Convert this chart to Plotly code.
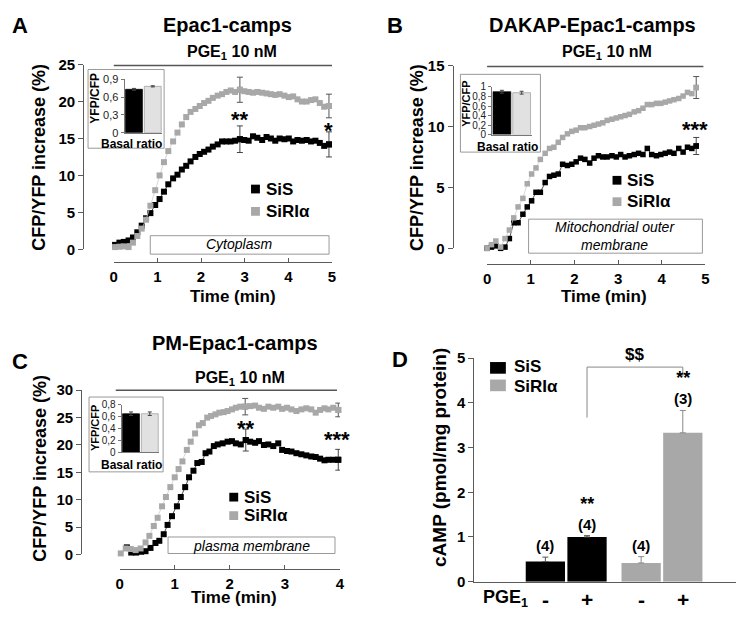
import plotly.graph_objects as go

# page is 749x622; browser body keeps an 8px margin, so the figure is 733x606
OFF = 8
FW, FH = 733, 606
FONT = "Liberation Sans, Arial, Helvetica, sans-serif"
AX = "#5a5a5a"
GRAY = "#a8a8a8"
LIGHT = "#e1e1e1"

# ---------------- data ----------------
# Panel A: Epac1-camps (cytoplasm)
A_time = [0.03, 0.13, 0.23, 0.34, 0.44, 0.54, 0.64, 0.74, 0.84, 0.95,
          1.05, 1.15, 1.25, 1.36, 1.46, 1.56, 1.66, 1.76, 1.87, 1.97,
          2.07, 2.17, 2.27, 2.38, 2.48, 2.58, 2.68, 2.78, 2.89, 2.99,
          3.09, 3.19, 3.29, 3.40, 3.50, 3.60, 3.70, 3.80, 3.91, 4.01,
          4.11, 4.21, 4.31, 4.42, 4.52, 4.62, 4.72, 4.82, 4.93]
A_sis = [0.6, 0.9, 1.0, 1.2, 1.6, 2.3, 3.2, 4.2, 4.9, 6.0,
         6.8, 7.8, 8.8, 9.6, 10.1, 10.8, 11.3, 11.9, 12.5, 12.9,
         13.2, 13.5, 13.9, 14.2, 14.6, 14.6, 14.6, 14.7, 14.9, 14.8,
         14.7, 15.3, 15.1, 14.8, 15.2, 15.0, 14.7, 15.0, 14.9, 15.0,
         14.6, 14.8, 14.7, 14.8, 14.6, 14.7, 14.4, 14.0, 14.2]
A_siri = [0.3, 0.35, 0.4, 0.3, 0.9, 1.8, 2.8, 4.0, 5.9, 8.0,
          10.0, 11.8, 13.3, 14.6, 15.8, 16.9, 17.9, 18.6, 19.0, 19.4,
          19.8, 20.1, 20.5, 20.8, 21.0, 21.3, 21.5, 21.3, 21.6, 21.4,
          21.3, 21.2, 21.3, 21.2, 21.1, 21.0, 20.9, 21.0, 20.8, 20.6,
          20.7, 20.3, 20.0, 20.0, 20.2, 20.3, 19.8, 19.3, 19.4]
A_err_idx = [28, 48]
A_sis_err = [1.8, 1.7]
A_siri_err = [1.7, 1.6]
A_basal = [0.73, 0.78]
A_basal_err = [0.015, 0.01]

# Panel B: DAKAP-Epac1-camps (mitochondrial outer membrane)
B_time = [0.0, 0.10, 0.20, 0.31, 0.41, 0.51, 0.61, 0.71, 0.82, 0.92,
          1.02, 1.12, 1.22, 1.33, 1.43, 1.53, 1.63, 1.73, 1.84, 1.94,
          2.04, 2.14, 2.24, 2.35, 2.45, 2.55, 2.65, 2.75, 2.86, 2.96,
          3.06, 3.16, 3.26, 3.37, 3.47, 3.57, 3.67, 3.77, 3.88, 3.98,
          4.08, 4.18, 4.28, 4.39, 4.49, 4.59, 4.69, 4.79]
B_sis = [0.0, 0.1, 0.2, 0.0, 0.1, 0.8, 2.1, 2.1, 2.8, 3.4,
         3.9, 4.6, 4.6, 5.4, 5.9, 6.0, 6.1, 6.9, 6.8, 6.9,
         7.1, 7.4, 7.3, 7.0, 7.4, 7.6, 7.5, 7.5, 7.6, 7.5,
         7.7, 7.5, 7.6, 7.7, 7.8, 7.7, 8.2, 7.7, 7.6, 7.7,
         7.8, 7.9, 7.8, 8.2, 7.9, 8.3, 8.2, 8.4]
B_siri = [0.0, 0.3, 0.6, 0.1, 0.8, 1.5, 2.5, 3.4, 4.1, 5.3,
          6.1, 6.6, 7.3, 7.8, 8.2, 8.3, 8.7, 9.1, 9.4, 9.6,
          9.7, 9.9, 9.9, 10.0, 10.1, 10.2, 10.3, 10.5, 10.6, 10.7,
          10.8, 10.9, 11.0, 11.2, 11.3, 11.5, 11.8, 11.8, 11.9, 11.9,
          12.0, 12.1, 12.2, 12.3, 12.5, 12.8, 12.7, 13.2]
B_err_idx = [47]
B_sis_err = [0.7]
B_siri_err = [0.9]
B_basal = [0.90, 0.88]
B_basal_err = [0.03, 0.03]

# Panel C: PM-Epac1-camps (plasma membrane)
C_time_sis = [0.13, 0.21, 0.30, 0.39, 0.47, 0.56, 0.65, 0.72, 0.80, 0.87,
              0.95, 1.04, 1.11, 1.19, 1.26, 1.34, 1.41, 1.49, 1.56, 1.63,
              1.71, 1.78, 1.87, 1.96, 2.04, 2.11, 2.20, 2.29, 2.37, 2.46,
              2.53, 2.62, 2.70, 2.79, 2.88, 2.95, 3.04, 3.12, 3.21, 3.30,
              3.39, 3.48, 3.56, 3.64, 3.72, 3.79, 3.88, 3.97]
C_sis = [1.3, 0.35, 0.35, 0.5, 0.6, 1.2, 2.1, 2.5, 3.7, 5.4,
         7.0, 8.8, 10.5, 12.3, 14.1, 15.3, 16.7, 16.9, 18.5, 18.8,
         19.8, 20.1, 20.3, 20.6, 20.7, 20.3, 20.1, 20.9, 20.6, 20.4,
         20.7, 20.0, 20.1, 19.8, 20.3, 19.1, 18.9, 18.8, 18.5, 18.3,
         18.1, 17.9, 17.8, 17.5, 17.2, 17.3, 17.3, 17.3]
C_time_siri = [0.02, 0.11, 0.20, 0.29, 0.38, 0.47, 0.54, 0.62, 0.69, 0.77,
               0.84, 0.92, 1.00, 1.07, 1.14, 1.22, 1.29, 1.37, 1.44, 1.51,
               1.59, 1.66, 1.74, 1.81, 1.89, 1.96, 2.04, 2.11, 2.19, 2.28,
               2.37, 2.46, 2.53, 2.62, 2.70, 2.79, 2.88, 2.95, 3.04, 3.12,
               3.21, 3.30, 3.39, 3.48, 3.56, 3.64, 3.72, 3.79, 3.88, 3.97]
C_siri = [0.2, 1.1, 1.0, 0.8, 1.1, 2.2, 3.4, 5.2, 6.7, 8.8,
          10.5, 12.3, 14.1, 15.6, 17.0, 19.1, 20.6, 22.1, 23.6, 24.0,
          25.0, 25.3, 25.6, 25.9, 26.0, 26.2, 26.5, 26.8, 27.0, 27.0,
          27.1, 27.2, 26.8, 26.6, 27.0, 26.8, 27.0, 26.6, 26.8, 26.5,
          26.2, 26.5, 26.7, 26.5, 25.9, 26.4, 26.7, 26.5, 26.8, 26.4]
C_sis_err_idx = [27, 47]
C_sis_err = [2.0, 1.9]
C_siri_err_idx = [29, 49]
C_siri_err = [1.5, 1.25]
C_basal = [0.65, 0.65]
C_basal_err = [0.03, 0.03]

# Panel D: cAMP
D_groups = ["SiS", "SiRIα"]
D_minus = [0.45, 0.42]
D_plus = [1.00, 3.33]
D_minus_err = [0.10, 0.14]
D_plus_err = [0.03, 0.50]
D_minus_lab = ["(4)", "(4)"]
D_plus_lab = ["<span style='font-size:18px'>**</span><br>(4)",
              "<span style='font-size:18px'>**</span><br>(3)"]

INSET_CATS = ["SiS", "SiRIα"]
A_inset_ticks = [0, 0.3, 0.6, 0.9]
A_inset_text = ["0", "0,3", "0,6", "0,9"]
B_inset_ticks = [0, 0.2, 0.4, 0.6, 0.8, 1.0]
B_inset_text = ["0", "0,2", "0,4", "0,6", "0,8", "1"]
C_inset_ticks = [0, 0.2, 0.4, 0.6, 0.8]
C_inset_text = ["0", "0,2", "0,4", "0,6", "0,8"]

# ---------------- helpers ----------------
def X(p):
    return min(max((p - OFF) / FW, 0.0), 1.0)


def Y(p):
    return min(max(1 - (p - OFF) / FH, 0.0), 1.0)


fig = go.Figure()
annotations = []
shapes = []
layout = dict(width=FW, height=FH, margin=dict(l=0, r=0, t=0, b=0),
              paper_bgcolor="white", plot_bgcolor="rgba(0,0,0,0)",
              showlegend=False, barmode="overlay",
              font=dict(family=FONT, color="black"))

TICK = 15
XT = 17
YT = 18
TITLE = 20
PGEF = 16
AST = 22
LET = 22


def ann(text, x, y, size, bold=True, italic=False, xanchor="center",
        yanchor="middle", angle=0, xref="paper", yref="paper", yshift=0,
        color="black"):
    annotations.append(dict(
        text=text, x=x, y=y, xref=xref, yref=yref, showarrow=False,
        xanchor=xanchor, yanchor=yanchor, textangle=angle, yshift=yshift,
        font=dict(family=FONT, size=size, color=color,
                  weight="bold" if bold else "normal",
                  style="italic" if italic else "normal")))


def rect(x0, y0, x1, y1, line="#999", fill=None, width=1):
    shapes.append(dict(type="rect", xref="paper", yref="paper",
                       x0=X(x0), x1=X(x1), y0=Y(y0), y1=Y(y1),
                       line=dict(color=line, width=width),
                       fillcolor=fill if fill else "rgba(0,0,0,0)"))


def hline(x0, x1, y, color="#555", width=1.5):
    shapes.append(dict(type="line", xref="paper", yref="paper",
                       x0=X(x0), x1=X(x1), y0=Y(y), y1=Y(y),
                       line=dict(color=color, width=width)))


def axname(prefix, k):
    return prefix if k == 1 else f"{prefix}{k}"


def main_axes(k, x0, x1, xmax, xline, y0, y1, ymax, ystep, yline):
    layout[axname("xaxis", k)] = dict(
        domain=[X(x0), X(x1)], range=[0, xmax], anchor="free",
        position=Y(xline), showline=True, linecolor=AX, linewidth=1,
        ticks="inside", ticklen=4, tickcolor=AX,
        tickvals=list(range(xmax + 1)),
        tickfont=dict(size=TICK, weight="bold", color="black"),
        ticklabelstandoff=1, showgrid=False, zeroline=False)
    layout[axname("yaxis", k)] = dict(
        domain=[Y(y0), Y(y1)], range=[0, ymax], anchor="free",
        position=X(yline), showline=True, linecolor=AX, linewidth=1,
        ticks="outside", ticklen=5, tickcolor=AX,
        tickvals=list(range(0, ymax + 1, ystep)),
        tickfont=dict(size=TICK, weight="bold", color="black"),
        showgrid=False, zeroline=False)


def inset_axes(k, x0, x1, y0, y1, ymax, tv, tt, fsize=11):
    layout[f"xaxis{k}"] = dict(
        domain=[X(x0), X(x1)], range=[-0.5, 1.5], anchor=f"y{k}",
        showline=True, linecolor="#777", showticklabels=False, ticks="",
        showgrid=False, zeroline=False, type="category")
    layout[f"yaxis{k}"] = dict(
        domain=[Y(y0), Y(y1)], range=[0, ymax], anchor=f"x{k}",
        showline=True, linecolor="#777", ticks="outside", ticklen=3,
        tickcolor="#777", tickvals=tv, ticktext=tt,
        tickfont=dict(size=fsize, color="#222"),
        showgrid=False, zeroline=False)


def curves(xa, ya, ts, vs, tr, vr, s_idx, s_err, r_idx, r_err, msize):
    fig.add_trace(go.Scatter(
        x=ts, y=vs, mode="lines+markers", xaxis=xa, yaxis=ya,
        marker=dict(symbol="square", size=msize, color="black"),
        line=dict(color="#222", width=0.8), cliponaxis=False))
    fig.add_trace(go.Scatter(
        x=tr, y=vr, mode="lines+markers", xaxis=xa, yaxis=ya,
        marker=dict(symbol="square", size=msize, color=GRAY),
        line=dict(color="#cccccc", width=0.8), cliponaxis=False))
    fig.add_trace(go.Scatter(
        x=[ts[i] for i in s_idx], y=[vs[i] for i in s_idx], mode="markers",
        xaxis=xa, yaxis=ya,
        marker=dict(symbol="square", size=msize, color="black"),
        error_y=dict(type="data", array=s_err, color="#444",
                     thickness=1, width=3), cliponaxis=False))
    fig.add_trace(go.Scatter(
        x=[tr[i] for i in r_idx], y=[vr[i] for i in r_idx], mode="markers",
        xaxis=xa, yaxis=ya,
        marker=dict(symbol="square", size=msize, color=GRAY),
        error_y=dict(type="data", array=r_err, color="#555",
                     thickness=1, width=3), cliponaxis=False))


def inset_bars(k, vals, errs):
    fig.add_trace(go.Bar(
        x=INSET_CATS, y=vals, width=0.9, xaxis=f"x{k}", yaxis=f"y{k}",
        marker=dict(color=["black", LIGHT],
                    line=dict(color=["black", "#999"], width=0.7)),
        error_y=dict(type="data", array=errs, color="#444",
                     thickness=1, width=2)))


def legend_items(x0, y_sis, y_siri, w=9, h=9, size=17):
    rect(x0, y_sis - h / 2, x0 + w, y_sis + h / 2, line="black", fill="black", width=0)
    rect(x0, y_siri - h / 2, x0 + w, y_siri + h / 2, line=GRAY, fill=GRAY, width=0)
    tx = x0 + w + 4
    ann("SiS", X(tx), Y(y_sis), size, xanchor="left")
    ann("SiRIα", X(tx), Y(y_siri), size, xanchor="left")


PGE = "PGE<sub>1</sub> 10 nM"

# ---------------- Panel A ----------------
main_axes(1, 111, 332, 5, 260, 247, 57, 25, 5, 80)
inset_axes(2, 122, 160, 127, 72, 0.9, A_inset_ticks, A_inset_text)
curves("x", "y", A_time, A_sis, A_time, A_siri, A_err_idx, A_sis_err,
       A_err_idx, A_siri_err, 6)
inset_bars(2, A_basal, A_basal_err)
ann("A", X(16), Y(17), LET)
ann("Epac1-camps", X(226), Y(16), TITLE)
ann(PGE, X(231), Y(45), PGEF)
hline(111, 332, 58)
rect(85, 62, 162, 143, line="#999")
ann("YFP/CFP", X(92), Y(91), 12, angle=-90)
ann("Basal ratio", X(129), Y(139), 12)
ann("CFP/YFP increase (%)", X(35), Y(152), YT, angle=-90)
ann("Time (min)", X(232), Y(296), XT)
rect(148, 233, 329, 252)
ann("Cytoplasm", X(238), Y(242), 14, bold=False, italic=True)
legend_items(250, 185, 208)
ann("**", A_time[A_err_idx[0]], Y(113), AST, xref="x")
ann("*", A_time[A_err_idx[1]], Y(125), AST, xref="x")

# ---------------- Panel B ----------------
main_axes(3, 489, 710, 5, 262, 246, 58, 15, 5, 454)
inset_axes(4, 494, 534, 129, 80, 1.0, B_inset_ticks, B_inset_text, fsize=10)
curves("x3", "y3", B_time, B_sis, B_time, B_siri, B_err_idx, B_sis_err,
       B_err_idx, B_siri_err, 5.5)
inset_bars(4, B_basal, B_basal_err)
ann("B", X(396), Y(17), LET)
ann("DAKAP-Epac1-camps", X(596), Y(16), TITLE)
ann(PGE, X(610), Y(45), PGEF)
hline(489, 708, 59)
rect(462, 67, 543, 147, line="#999")
ann("YFP/CFP", X(467), Y(97), 11, angle=-90)
ann("Basal ratio", X(510), Y(142), 12)
ann("CFP/YFP increase (%)", X(418), Y(152), YT, angle=-90)
ann("Time (min)", X(607), Y(296), XT)
rect(531, 216, 707, 251)
ann("Mitochondrial outer<br>membrane", X(619), Y(233.5), 14, bold=False, italic=True)
legend_items(616, 176, 198)
ann("***", B_time[B_err_idx[0]] - 0.03, Y(124), AST, xref="x3")

# ---------------- Panel C ----------------
main_axes(5, 117, 340, 4, 576, 561, 392, 30, 5, 78)
inset_axes(6, 119, 157, 456, 407, 0.8, C_inset_ticks, C_inset_text, fsize=10)
curves("x5", "y5", C_time_sis, C_sis, C_time_siri, C_siri, C_sis_err_idx,
       C_sis_err, C_siri_err_idx, C_siri_err, 6)
inset_bars(6, C_basal, C_basal_err)
ann("C", X(16), Y(362), LET)
ann("PM-Epac1-camps", X(234), Y(343), TITLE)
ann(PGE, X(239), Y(380), PGEF)
hline(113, 337, 392)
rect(86, 399, 161, 476, line="#999")
ann("YFP/CFP", X(92), Y(431), 11, angle=-90)
ann("Basal ratio", X(129), Y(469), 12)
ann("CFP/YFP increase (%)", X(36), Y(472), YT, angle=-90)
ann("Time (min)", X(233), Y(605), XT)
rect(166, 543, 335, 560)
ann("plasma membrane", X(250), Y(552), 14, bold=False, italic=True)
legend_items(228, 502, 521)
ann("**", C_time_sis[C_sis_err_idx[0]], Y(431), AST, xref="x5")
ann("***", C_time_sis[C_sis_err_idx[1]] - 0.03, Y(443), AST, xref="x5")

# ---------------- Panel D ----------------
layout["xaxis7"] = dict(domain=[X(476), X(741)], range=[-0.96, 1.773],
                        type="category", anchor="y7", showline=True,
                        linecolor=AX, showticklabels=False, ticks="",
                        showgrid=False, zeroline=False)
layout["yaxis7"] = dict(domain=[Y(589), Y(359)], range=[0, 5], anchor="x7",
                        showline=True, linecolor=AX, ticks="outside",
                        ticklen=5, tickcolor=AX, tickvals=[0, 1, 2, 3, 4, 5],
                        tickfont=dict(size=TICK, weight="bold", color="black"),
                        showgrid=False, zeroline=False)
OFFS = [-0.4225, 0.0125]
BW = 0.41
bar_cols = ["black", GRAY]
err_cols = ["#555", "#8a8a8a"]
for i, g in enumerate(D_groups):
    fig.add_trace(go.Bar(
        x=[g, g], y=[D_minus[i], D_plus[i]], offset=OFFS, width=BW,
        xaxis="x7", yaxis="y7", marker=dict(color=bar_cols[i], line=dict(width=0)),
        error_y=dict(type="data", array=[D_minus_err[i], D_plus_err[i]],
                     arrayminus=[0, 0], symmetric=False, color=err_cols[i],
                     thickness=1, width=3)))
    for j, (v, e, lab) in enumerate([(D_minus[i], D_minus_err[i], D_minus_lab[i]),
                                     (D_plus[i], D_plus_err[i], D_plus_lab[i])]):
        pos = i + OFFS[j] + BW / 2
        ann(lab, pos, v + e, 15, xref="x7", yref="y7", yanchor="bottom", yshift=1)
        ann("-" if j == 0 else "+", pos, Y(607), 21, xref="x7")

cL = 0 + OFFS[1] + BW / 2
cR = 1 + OFFS[1] + BW / 2
shapes.append(dict(type="path", xref="x7", yref="y7",
                   path=f"M {cL},3.67 L {cL},4.8 L {cR},4.8 L {cR},4.6",
                   line=dict(color="#888", width=1)))
ann("$$", (cL + cR) / 2, 4.8, 17, xref="x7", yref="y7", yanchor="bottom", yshift=1)
ann("D", X(401), Y(360), LET)
ann("cAMP (pmol/mg protein)", X(441), Y(461), 19, angle=-90)
ann("PGE<sub>1</sub>", X(508), Y(606), 18)
shapes.append(dict(type="rect", xref="paper", yref="paper", x0=X(492), x1=X(508),
                   y0=Y(375), y1=Y(363), line=dict(width=0), fillcolor="black"))
shapes.append(dict(type="rect", xref="paper", yref="paper", x0=X(492), x1=X(508),
                   y0=Y(393), y1=Y(381), line=dict(width=0), fillcolor=GRAY))
ann("SiS", X(514), Y(368), 17, xanchor="left")
ann("SiRIα", X(514), Y(388), 17, xanchor="left")

layout["annotations"] = annotations
layout["shapes"] = shapes
fig.update_layout(**layout)
fig.write_html("out.html", config={"displayModeBar": False})
